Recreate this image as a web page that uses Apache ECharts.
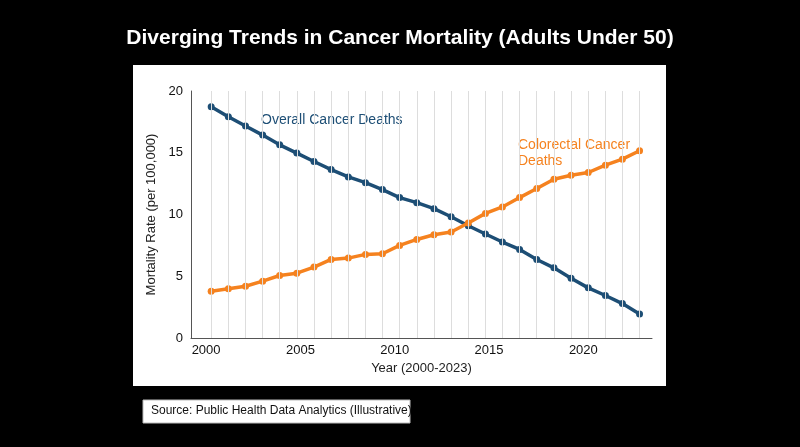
<!DOCTYPE html>
<html><head><meta charset="utf-8">
<script src="https://cdn.jsdelivr.net/npm/echarts@6/dist/echarts.min.js"></script>
<style>html,body{margin:0;background:#000;}#c{width:800px;height:447px;}</style>
</head><body><div id="c"></div>
<script>
// 数据
var years = [2000.27, 2001.18, 2002.09, 2003.0, 2003.9, 2004.81, 2005.72, 2006.63, 2007.54, 2008.45, 2009.35, 2010.26, 2011.17,
  2012.08, 2012.99, 2013.9, 2014.81, 2015.71, 2016.62, 2017.53, 2018.44, 2019.35, 2020.26, 2021.17, 2022.07, 2022.98];
var overall = [18.73, 17.92, 17.16, 16.43, 15.64, 14.97, 14.29, 13.64, 13.04, 12.58, 12.02, 11.37, 10.96,
  10.47, 9.82, 9.09, 8.42, 7.77, 7.17, 6.36, 5.68, 4.84, 4.06, 3.44, 2.79, 1.95];
var colorectal = [3.79, 3.98, 4.19, 4.6, 5.06, 5.25, 5.74, 6.36, 6.47, 6.77, 6.82, 7.5, 7.98,
  8.36, 8.58, 9.31, 10.09, 10.61, 11.37, 12.1, 12.86, 13.18, 13.4, 13.99, 14.48, 15.16];
var xTicks = [2000, 2005, 2010, 2015, 2020];

var BLUE = "#1d4e75", ORANGE = "#f5821f";
var font = "Helvetica, Arial, 'Liberation Sans', sans-serif";

function pairs(v) { return years.map(function(y, i) { return [y, v[i]]; }); }

var chart = echarts.init(document.getElementById("c"));
chart.setOption({
  backgroundColor: "#000",
  animation: false,
  textStyle: { fontFamily: font },
  graphic: [
    { type: "rect", z: -10, shape: { x: 133, y: 65, width: 533, height: 321 }, style: { fill: "#fff" } },
    { type: "text", left: "center", top: 28, style: { text: "Diverging Trends in Cancer Mortality (Adults Under 50)", fill: "#fff", font: "bold 21px " + font } },
    { type: "rect", shape: { x: 143, y: 400, width: 267, height: 23 }, style: { fill: "#fff", stroke: "#bbb" } },
    { type: "text", left: 151, top: 405, style: { text: "Source: Public Health Data Analytics (Illustrative)", fill: "#111", font: "12px " + font } },
    { type: "text", left: 261, top: 113, style: { text: "Overall Cancer Deaths", fill: BLUE, font: "14px " + font } },
    { type: "text", left: 518, top: 137, style: { text: "Colorectal Cancer\nDeaths", fill: ORANGE, font: "14px " + font, lineHeight: 16 } }
  ],
  grid: { left: 191, right: 148, top: 91, bottom: 109 },
  xAxis: {
    type: "value", min: 1999.2, max: 2023.64,
    name: "Year (2000-2023)", nameLocation: "middle", nameGap: 22,
    nameTextStyle: { color: "#222", fontSize: 13 },
    axisLine: { lineStyle: { color: "#555" } },
    axisTick: { show: false },
    splitLine: { show: false },
    axisLabel: {
      color: "#111", fontSize: 13, margin: 6,
      customValues: xTicks,
      formatter: function(v) { return String(v); }
    }
  },
  yAxis: {
    type: "value", min: 0, max: 20, interval: 5,
    name: "Mortality Rate (per 100,000)", nameLocation: "middle", nameGap: 26,
    nameTextStyle: { color: "#222", fontSize: 13 },
    axisLine: { show: true, lineStyle: { color: "#555" } },
    axisTick: { show: false },
    splitLine: { show: false },
    axisLabel: { color: "#111", fontSize: 13, margin: 8 }
  },
  series: [
    {
      type: "line", data: pairs(overall), symbol: "circle", symbolSize: 7,
      lineStyle: { color: BLUE, width: 3.5 }, itemStyle: { color: BLUE }, z: 3,
      markLine: {
        silent: true, symbol: "none", label: { show: false },
        lineStyle: { color: "#ddd", width: 1, type: "solid" },
        data: years.map(function(y) { return { xAxis: y }; })
      }
    },
    {
      type: "line", data: pairs(colorectal), symbol: "circle", symbolSize: 7,
      lineStyle: { color: ORANGE, width: 3.5 }, itemStyle: { color: ORANGE }, z: 4
    }
  ]
});
</script></body></html>
